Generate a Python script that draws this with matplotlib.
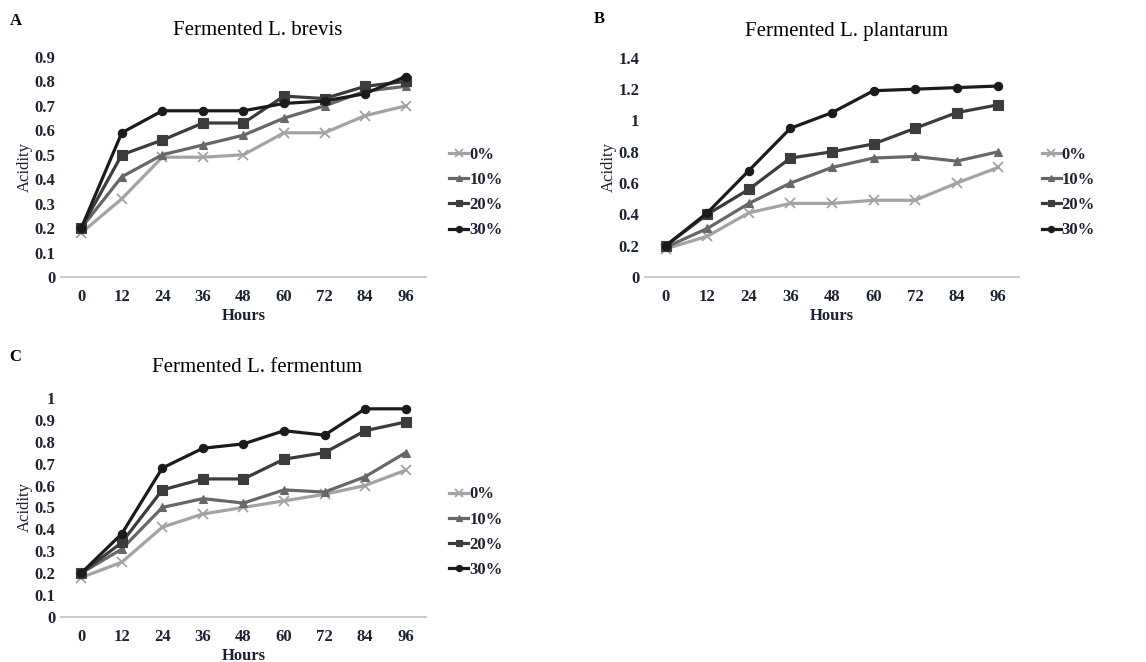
import matplotlib
matplotlib.use("Agg")
import matplotlib.pyplot as plt

# data
hours = [0, 12, 24, 36, 48, 60, 72, 84, 96]
labels = ["0%", "10%", "20%", "30%"]

brevis_0 = [0.18, 0.32, 0.49, 0.49, 0.50, 0.59, 0.59, 0.66, 0.70]
brevis_10 = [0.20, 0.41, 0.50, 0.54, 0.58, 0.65, 0.70, 0.76, 0.78]
brevis_20 = [0.20, 0.50, 0.56, 0.63, 0.63, 0.74, 0.73, 0.78, 0.80]
brevis_30 = [0.20, 0.59, 0.68, 0.68, 0.68, 0.71, 0.72, 0.75, 0.82]

plant_0 = [0.18, 0.26, 0.41, 0.47, 0.47, 0.49, 0.49, 0.60, 0.70]
plant_10 = [0.19, 0.31, 0.47, 0.60, 0.70, 0.76, 0.77, 0.74, 0.80]
plant_20 = [0.20, 0.40, 0.56, 0.76, 0.80, 0.85, 0.95, 1.05, 1.10]
plant_30 = [0.20, 0.41, 0.68, 0.95, 1.05, 1.19, 1.20, 1.21, 1.22]

ferm_0 = [0.18, 0.25, 0.41, 0.47, 0.50, 0.53, 0.56, 0.60, 0.67]
ferm_10 = [0.20, 0.31, 0.50, 0.54, 0.52, 0.58, 0.57, 0.64, 0.75]
ferm_20 = [0.20, 0.34, 0.58, 0.63, 0.63, 0.72, 0.75, 0.85, 0.89]
ferm_30 = [0.20, 0.38, 0.68, 0.77, 0.79, 0.85, 0.83, 0.95, 0.95]

colors = ["#a3a3a3", "#676767", "#3c3c3c", "#1b1b1b"]
markers = ["x", "^", "s", "o"]
msizes = [7, 6, 6.5, 6]
txt = "#1c2233"

plt.rcParams["font.family"] = ["Liberation Serif", "DejaVu Serif"]

fig = plt.figure(figsize=(11.46, 6.62), dpi=100)


def panel(rect, series, title, letter, ymax, yticks, ytl, leg_xy, letter_xy, title_y):
    ax = fig.add_axes(rect)
    for s, c, m, ms, lab in zip(series, colors, markers, msizes, labels):
        ax.plot(hours, s, color=c, marker=m, markersize=ms, lw=2.3,
                markeredgewidth=1.3 if m == "x" else 0.8, label=lab)
    ax.set_xlim(-6, 102)
    ax.set_ylim(0, ymax)
    ax.set_xticks(hours)
    ax.set_xticklabels([str(h) for h in hours], fontsize=12,
                       fontweight="bold", color=txt)
    ax.set_yticks(yticks)
    ax.set_yticklabels(ytl, fontsize=12, fontweight="bold", color=txt)
    ax.tick_params(length=0, axis="x", pad=9)
    ax.tick_params(length=0, axis="y", pad=4)
    for sp in ["top", "right", "left"]:
        ax.spines[sp].set_visible(False)
    ax.spines["bottom"].set_color("#bfbfbf")
    ax.spines["bottom"].set_linewidth(1.2)
    ax.set_xlabel("Hours", fontsize=12, fontweight="bold", color=txt, labelpad=2)
    ax.set_ylabel("Acidity", fontsize=12, color=txt, labelpad=1)
    ax.set_title(title, fontsize=15, pad=0, y=title_y, x=0.538)
    fig.text(letter_xy[0], letter_xy[1], letter, fontsize=12, fontweight="bold")
    ax.legend(loc="center left", bbox_to_anchor=leg_xy, bbox_transform=fig.transFigure,
              frameon=False, handlelength=1.15, handletextpad=0.05,
              labelspacing=0.55, prop={"weight": "bold", "size": 12},
              labelcolor=txt, borderpad=0, borderaxespad=0, markerscale=0.75)
    return ax


panel([0.0532, 0.5816, 0.3185, 0.3323],
      [brevis_0, brevis_10, brevis_20, brevis_30],
      "Fermented L. brevis", "A", 0.9,
      [0, 0.1, 0.2, 0.3, 0.4, 0.5, 0.6, 0.7, 0.8, 0.9],
      ["0", "0.1", "0.2", "0.3", "0.4", "0.5", "0.6", "0.7", "0.8", "0.9"],
      (0.392, 0.709), (0.009, 0.962), 1.10)

panel([0.5628, 0.5816, 0.3264, 0.331],
      [plant_0, plant_10, plant_20, plant_30],
      "Fermented L. plantarum", "B", 1.4,
      [0, 0.2, 0.4, 0.6, 0.8, 1.0, 1.2, 1.4],
      ["0", "0.2", "0.4", "0.6", "0.8", "1", "1.2", "1.4"],
      (0.909, 0.709), (0.518, 0.965), 1.10)

panel([0.0532, 0.068, 0.3185, 0.331],
      [ferm_0, ferm_10, ferm_20, ferm_30],
      "Fermented L. fermentum", "C", 1.0,
      [0, 0.1, 0.2, 0.3, 0.4, 0.5, 0.6, 0.7, 0.8, 0.9, 1.0],
      ["0", "0.1", "0.2", "0.3", "0.4", "0.5", "0.6", "0.7", "0.8", "0.9", "1"],
      (0.392, 0.196), (0.008, 0.455), 1.12)

fig.savefig("out.png", dpi=100)
